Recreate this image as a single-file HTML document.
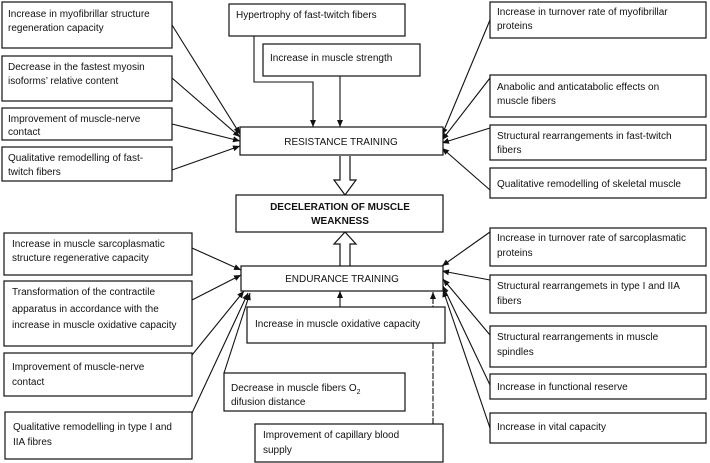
<!DOCTYPE html>
<html><head><style>
body{margin:0;background:#fff}
svg{display:block}
text{font-family:"Liberation Sans",sans-serif;font-size:10px;fill:#111}
rect{fill:#fff;stroke:#111;stroke-width:1.2}
line,polyline{stroke:#111;stroke-width:1.1;fill:none}
</style></head><body>
<svg width="710" height="463" viewBox="0 0 710 463">
<defs><marker id="a" markerWidth="8" markerHeight="8" refX="7" refY="4" orient="auto" markerUnits="userSpaceOnUse"><path d="M0,1 L7,4 L0,7 z" fill="#111"/></marker></defs>

<!-- connectors top -->
<g marker-end="url(#a)">
<line x1="172" y1="25" x2="240" y2="134"/>
<line x1="172" y1="78" x2="240" y2="137"/>
<line x1="172" y1="124" x2="240" y2="141"/>
<line x1="172" y1="170" x2="240" y2="146"/>
<polyline points="254,36 254,82 313,82 313,127"/>
<line x1="340" y1="76" x2="340" y2="127"/>
<line x1="490" y1="20" x2="442" y2="135"/>
<line x1="490" y1="78" x2="442" y2="140"/>
<line x1="490" y1="128" x2="442" y2="143"/>
<line x1="490" y1="190" x2="442" y2="148"/>
<!-- bottom -->
<line x1="192" y1="248" x2="241" y2="270"/>
<line x1="192" y1="300" x2="241" y2="275"/>
<line x1="192" y1="355" x2="244" y2="291"/>
<line x1="192" y1="413" x2="248" y2="293"/>
<line x1="224" y1="373" x2="250" y2="293"/>
<line x1="340" y1="307" x2="340" y2="291"/>
<line x1="433" y1="424" x2="433" y2="292" stroke-dasharray="6,1.5"/>
<line x1="490" y1="232" x2="442" y2="266"/>
<line x1="490" y1="280" x2="442" y2="271"/>
<line x1="490" y1="335" x2="443" y2="279"/>
<line x1="490" y1="385" x2="443" y2="286"/>
<line x1="490" y1="428" x2="443" y2="290"/>
</g>

<!-- hollow arrows -->
<path d="M340,156 L340,180 L334,180 L345,195 L356,180 L350,180 L350,156" fill="#fff" stroke="#111" stroke-width="1.2"/>
<path d="M340,266 L340,244 L334,244 L345,232 L356,244 L350,244 L350,266" fill="#fff" stroke="#111" stroke-width="1.2"/>

<!-- left top -->
<rect x="2" y="2" width="170" height="46"/><text x="8" y="17">Increase in myofibrillar structure</text><text x="8" y="31">regeneration capacity</text>
<rect x="2" y="56" width="170" height="45"/><text x="8" y="70">Decrease in the fastest myosin</text><text x="8" y="84">isoforms’ relative content</text>
<rect x="2" y="108" width="170" height="32"/><text x="8" y="122">Improvement of muscle-nerve</text><text x="8" y="135">contact</text>
<rect x="2" y="147" width="170" height="34"/><text x="8" y="161">Qualitative remodelling of fast-</text><text x="8" y="175">twitch fibers</text>

<rect x="229" y="4" width="176" height="32"/><text x="236" y="18">Hypertrophy of fast-twitch fibers</text>
<rect x="263" y="44" width="157" height="32"/><text x="270" y="61">Increase in muscle strength</text>
<rect x="240" y="127" width="203" height="28"/><text x="341" y="145" text-anchor="middle">RESISTANCE TRAINING</text>

<rect x="490" y="2" width="216" height="36"/><text x="497" y="15">Increase in turnover rate of myofibrillar</text><text x="497" y="29">proteins</text>
<rect x="490" y="75" width="216" height="42"/><text x="497" y="90">Anabolic and anticatabolic effects on</text><text x="497" y="104">muscle fibers</text>
<rect x="490" y="125" width="216" height="35"/><text x="497" y="139">Structural rearrangements in fast-twitch</text><text x="497" y="153">fibers</text>
<rect x="490" y="168" width="216" height="30"/><text x="497" y="187">Qualitative remodelling of skeletal muscle</text>

<rect x="236" y="195" width="207" height="37"/><text x="340" y="210" text-anchor="middle" font-weight="bold">DECELERATION OF MUSCLE</text><text x="340" y="224" text-anchor="middle" font-weight="bold">WEAKNESS</text>

<!-- bottom -->
<rect x="241" y="266" width="202" height="25"/><text x="342" y="282" text-anchor="middle">ENDURANCE TRAINING</text>
<rect x="4" y="233" width="188" height="42"/><text x="12" y="247">Increase in muscle sarcoplasmatic</text><text x="12" y="261">structure regenerative capacity</text>
<rect x="4" y="281" width="188" height="65"/><text x="12" y="295">Transformation of the contractile</text><text x="12" y="312">apparatus in accordance with the</text><text x="12" y="328">increase in muscle oxidative capacity</text>
<rect x="4" y="353" width="188" height="43"/><text x="12" y="370">Improvement of muscle-nerve</text><text x="12" y="385">contact</text>
<rect x="5" y="412" width="187" height="47"/><text x="13" y="430">Qualitative remodelling in type I and</text><text x="13" y="445">IIA fibres</text>
<rect x="247" y="307" width="198" height="36"/><text x="255" y="327">Increase in muscle oxidative capacity</text>
<rect x="224" y="373" width="181" height="38"/><text x="231" y="391">Decrease in muscle fibers O<tspan font-size="7" dy="3">2</tspan></text><text x="231" y="405">difusion distance</text>
<rect x="255" y="424" width="188" height="38"/><text x="263" y="438">Improvement of capillary blood</text><text x="263" y="453">supply</text>

<rect x="490" y="228" width="216" height="38"/><text x="497" y="241">Increase in turnover rate of sarcoplasmatic</text><text x="497" y="256">proteins</text>
<rect x="490" y="275" width="216" height="38"/><text x="497" y="289">Structural rearrangemets in type I and IIA</text><text x="497" y="304">fibers</text>
<rect x="490" y="326" width="216" height="41"/><text x="497" y="340">Structural rearrangements in muscle</text><text x="497" y="355">spindles</text>
<rect x="490" y="374" width="216" height="25"/><text x="497" y="390">Increase in functional reserve</text>
<rect x="490" y="413" width="216" height="30"/><text x="497" y="430">Increase in vital capacity</text>
</svg>
</body></html>
